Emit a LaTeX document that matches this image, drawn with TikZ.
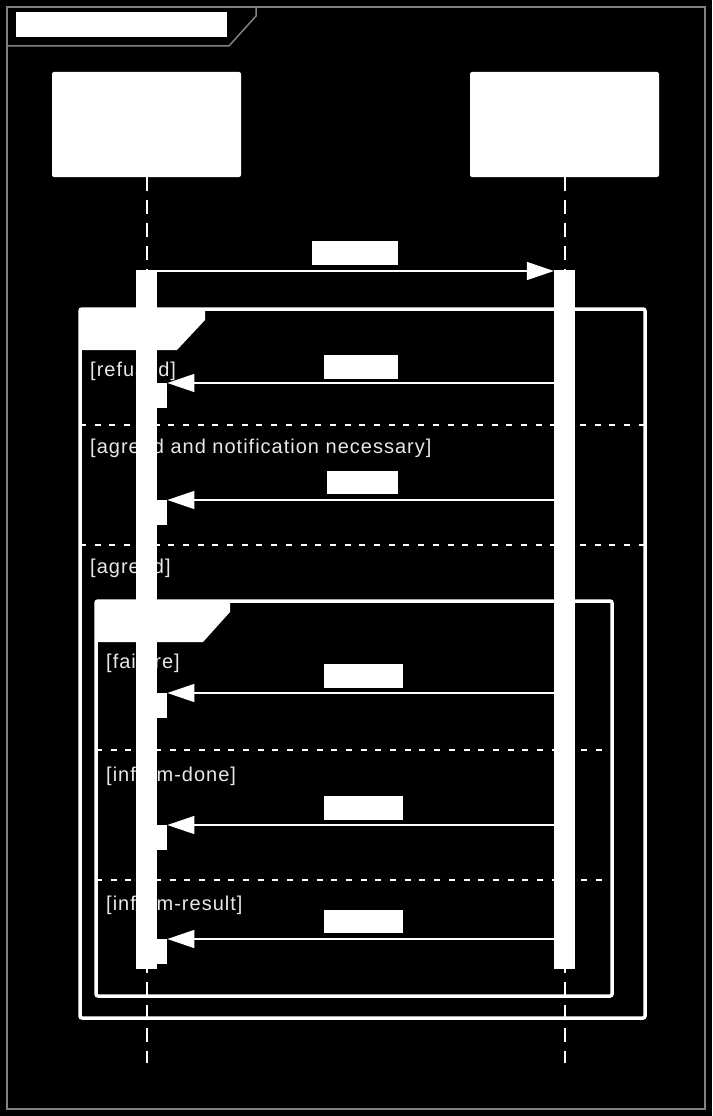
\documentclass[tikz,border=0pt]{standalone}
\usepackage{fontspec}
\newfontfamily\lblfont{Liberation Sans}[LetterSpace=5]
\usetikzlibrary{arrows.meta}
\definecolor{txt}{RGB}{232,232,232}
\definecolor{framegray}{RGB}{130,130,130}
\begin{document}
\begin{tikzpicture}[x=1pt,y=-1pt,
  lifebox/.style={draw=none,fill=white,rounded corners=2pt,minimum width=189pt,minimum height=105pt,inner sep=0pt},
  lifeline/.style={draw=white,line width=2pt,dash pattern=on 14pt off 9pt},
  bar/.style={draw=none,fill=white,inner sep=0pt,minimum width=21pt,minimum height=699pt,anchor=north},
  reply/.style={draw=none,fill=white,inner sep=0pt,minimum width=10pt,minimum height=25pt,anchor=north west},
  labbox/.style={draw=none,fill=white,inner sep=0pt},
  fragframe/.style={draw=white,line width=3.5pt,rounded corners=2pt},
  sepline/.style={draw=white,line width=2pt,dash pattern=on 6pt off 8.7pt},
  cond/.style={font=\lblfont\fontsize{20}{20}\selectfont,text=txt,inner sep=0pt,anchor=base west},
  msg/.style={draw=white,line width=1.6pt,-{Triangle[length=27pt,width=18pt]}},
  grayline/.style={draw=framegray,line width=1.5pt}
]
% background and bounding box
\fill[black] (0,0) rectangle (712,1116);
\useasboundingbox (0,0) rectangle (712,1116);
% outer diagram frame and title tab
\draw[grayline] (7,7) rectangle (705,1109);
\draw[grayline] (7,46) -- (229,46) -- (256,16) -- (256,7);
\node[labbox,minimum width=211pt,minimum height=25pt,anchor=north west] (title) at (16,12) {};
% lifeline heads
\node[lifebox] (A) at (146.5,124.5) {};
\node[lifebox] (B) at (564.5,124.5) {};
\coordinate (endA) at (146.5,1063);
\coordinate (endB) at (564.5,1063);
\draw[lifeline] (A.south) -- (endA);
\draw[lifeline] (B.south) -- (endB);
% outer alt fragment
\draw[fragframe] (80,309) rectangle (645,1018);
\fill[white] (80,309) -- (205,309) -- (205,320) -- (177,350) -- (80,350) -- cycle;
\draw[sepline] (80,425) -- (645,425);
\draw[sepline] (80,545) -- (645,545);
% inner alt fragment
\draw[fragframe] (96,601) rectangle (612,996);
\fill[white] (96,601) -- (230,601) -- (230,612) -- (203,642) -- (96,642) -- cycle;
\draw[sepline] (96,750) -- (612,750);
\draw[sepline] (96,880) -- (612,880);
% guards
\node[cond] (g1) at (90,376) {[refused]};
\node[cond] (g2) at (90,453) {[agreed and notification necessary]};
\node[cond] (g3) at (90,573) {[agreed]};
\node[cond] (g4) at (106,668) {[failure]};
\node[cond] (g5) at (106,781) {[inform-done]};
\node[cond] (g6) at (106,910) {[inform-result]};
% activation bars
\node[bar] (barA) at (146.5,270) {};
\node[bar] (barB) at (564.5,270) {};
% reply activation boxes
\node[reply] (r1) at (157,383) {};
\node[reply] (r2) at (157,500) {};
\node[reply] (r3) at (157,693) {};
\node[reply] (r4) at (157,825) {};
\node[reply] (r5) at (157,939) {};
% messages
\coordinate (m1) at (0,271);
\draw[msg] (barA.east |- m1) -- (barB.west |- m1);
\draw[msg] (barB.west |- r1.north) -- (r1.north east);
\draw[msg] (barB.west |- r2.north) -- (r2.north east);
\draw[msg] (barB.west |- r3.north) -- (r3.north east);
\draw[msg] (barB.west |- r4.north) -- (r4.north east);
\draw[msg] (barB.west |- r5.north) -- (r5.north east);
% message labels
\node[labbox,minimum width=86pt,minimum height=24pt,anchor=north west] (l1) at (312,241) {};
\node[labbox,minimum width=74pt,minimum height=24pt,anchor=north west] (l2) at (324,355) {};
\node[labbox,minimum width=71pt,minimum height=23pt,anchor=north west] (l3) at (327,471) {};
\node[labbox,minimum width=79pt,minimum height=24pt,anchor=north west] (l4) at (324,664) {};
\node[labbox,minimum width=79pt,minimum height=24pt,anchor=north west] (l5) at (324,796) {};
\node[labbox,minimum width=79pt,minimum height=23pt,anchor=north west] (l6) at (324,910) {};
\end{tikzpicture}
\end{document}
